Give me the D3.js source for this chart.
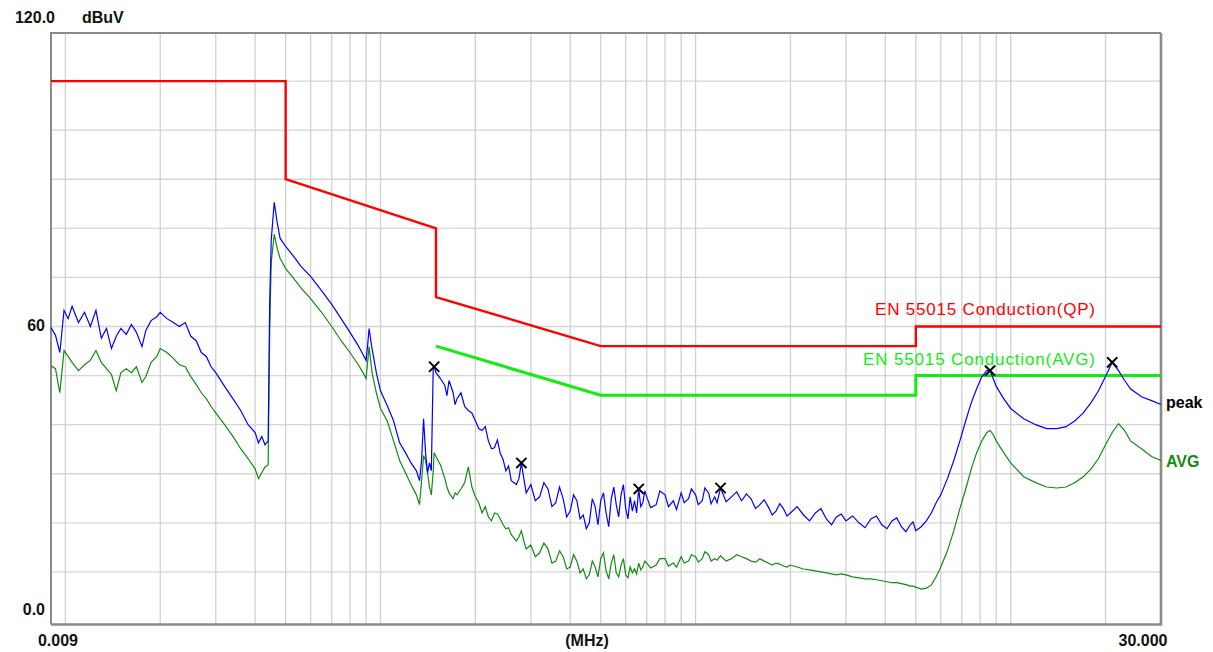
<!DOCTYPE html>
<html>
<head>
<meta charset="utf-8">
<script src="https://cdn.jsdelivr.net/npm/d3@7"></script>
<style>
  body { margin: 0; background: #fff; }
  text { font-family: "Liberation Sans", Arial, sans-serif; }
</style>
</head>
<body>
<div id="chart"></div>
<script>
// Conducted emission scan, 9 kHz - 30 MHz

// frequencies in MHz, shared by both traces
const freqs = [
  0.009,0.0093,0.0096,0.0099,0.0102,0.0105,0.011,0.0115,0.012,0.0125,
  0.013,0.0135,0.014,0.0145,0.015,0.0156,0.0162,0.0168,0.0175,0.018,
  0.0187,0.0195,0.020,0.021,0.022,0.023,0.024,0.025,0.026,0.027,
  0.028,0.029,0.030,
  0.032,0.034,0.036,0.038,0.040,0.041,0.042,0.043,0.044,0.0445,
  0.045,0.046,0.047,0.048,0.050,0.053,0.056,0.060,0.065,0.070,
  0.075,0.080,0.085,0.088,0.090,0.091,0.092,0.094,0.097,0.100,
  0.105,0.110,0.115,0.120,0.125,0.130,0.133,0.135,0.137,0.139,
  0.141,0.143,0.145,0.147,0.148,
  0.150,0.155,0.160,0.1625,0.165,0.170,0.1725,0.175,0.180,0.185,
  0.190,0.195,0.200,0.205,0.210,0.215,0.220,0.225,0.230,0.235,
  0.240,0.245,0.250,0.255,0.260,0.270,0.275,0.280,0.285,0.290,
  0.300,
  0.310,0.320,0.330,0.340,0.350,0.360,0.370,0.380,0.390,0.400,
  0.410,0.420,0.430,0.440,0.450,0.460,0.470,0.480,0.490,0.500,
  0.51,0.52,0.53,0.54,0.55,0.56,0.57,0.58,0.59,0.60,
  0.61,0.62,0.63,0.64,0.65,0.66,0.67,0.68,0.69,0.70,
  0.72,0.75,0.77,0.80,0.82,0.85,0.87,0.90,0.92,0.95,
  0.97,1.0,1.02,1.05,1.07,1.1,1.12,1.15,1.17,1.2,
  1.25,1.3,1.35,1.4,1.45,1.5,1.55,1.6,1.65,1.7,
  1.75,1.8,1.85,1.9,1.95,2.0,
  2.1,2.2,2.3,2.4,2.5,2.6,2.7,2.8,2.9,3.0,
  3.15,3.3,3.45,3.6,3.75,3.9,4.05,4.2,4.35,4.5,
  4.65,4.8,4.9,5.0,
  5.2,5.4,5.6,5.8,6.0,6.3,6.6,6.9,7.2,7.5,
  7.8,8.1,8.4,8.6,8.8,9.0,9.5,10,11,12,
  13,14,15,16,17,18,19,20,21,22,
  23,24,26,28,30
];

// peak detector trace, dBuV
const peakLevels = [
  59.8,58.2,54.7,63.3,61.6,64.1,60.8,62.9,60.0,63.3,
  57.6,59.6,55.5,58.0,59.6,58.4,60.4,58.8,55.9,59.2,
  61.2,62.0,62.9,61.6,60.8,60.0,60.8,58.0,57.1,54.7,
  53.9,51.8,50.6,
  47.8,45.3,42.9,40.0,38.4,36.3,37.6,35.9,36.7,65.3,
  77.6,85.3,81.2,78.0,76.3,74.3,72.2,70.2,67.3,64.5,
  61.6,58.8,56.1,54.3,53.1,56.1,59.6,55.5,50.6,46.9,
  43.9,40.8,36.3,34.3,32.2,30.6,28.6,32.7,41.2,34.3,
  30.2,32.2,30.6,51.6,51.8,
  50.6,49.4,48.0,45.9,49.0,46.5,44.1,45.3,46.5,43.7,
  42.9,42.4,40.8,39.2,38.8,39.6,36.7,35.1,35.3,36.9,
  34.1,32.9,30.6,31.6,28.6,27.8,29.0,32.2,29.0,26.1,
  27.8,
  24.5,25.3,28.2,26.9,23.3,24.1,27.3,24.9,21.2,22.4,
  25.7,24.5,20.8,21.6,18.8,20.0,24.9,23.3,19.6,24.5,
  26.1,22.0,19.2,24.9,27.3,23.7,21.2,25.7,27.8,22.9,
  20.8,25.3,22.4,24.5,22.0,26.9,23.3,24.1,26.5,25.3,
  23.1,23.7,26.5,25.7,23.3,24.5,22.7,26.1,24.1,24.9,
  26.9,25.7,23.7,24.5,27.1,26.1,23.9,25.3,24.1,27.1,
  24.3,25.3,26.3,24.5,25.9,24.9,22.9,23.7,24.7,23.3,
  21.6,22.4,23.9,22.9,21.4,22.0,
  23.3,21.6,20.4,22.0,22.9,20.8,19.6,21.2,21.8,20.4,
  21.4,20.0,19.0,20.8,21.4,19.6,18.8,20.4,21.0,19.2,
  18.2,19.6,20.2,18.4,
  19.2,20.4,22.0,24.1,25.7,29.0,32.7,36.7,40.8,44.5,
  47.3,49.8,51.0,51.0,49.4,47.8,45.3,43.3,41.2,40.0,
  39.2,39.2,39.6,40.8,42.4,44.5,46.9,49.8,52.7,51.0,
  49.0,47.3,45.7,44.9,44.1
];

// average detector trace, dBuV
const avgLevels = [
  52.0,51.4,46.5,55.1,53.9,52.7,51.0,52.2,53.1,55.1,
  52.7,51.4,50.2,46.9,50.6,51.4,50.6,51.8,48.6,49.8,
  52.7,53.9,55.5,54.7,53.5,52.2,51.8,49.8,48.2,46.5,
  45.3,43.7,42.4,
  40.0,37.6,35.1,33.1,31.0,29.0,30.2,31.4,31.8,59.2,
  73.1,78.8,75.9,73.9,71.8,69.8,67.8,65.7,62.9,60.0,
  57.1,54.7,52.2,50.6,49.4,52.7,55.9,50.6,46.5,43.3,
  40.8,36.7,32.7,30.2,27.8,25.7,23.7,28.6,33.7,32.7,
  30.2,27.3,25.7,30.6,34.3,
  33.5,31.8,29.0,27.3,26.1,24.9,26.1,25.7,26.9,28.2,
  31.4,27.3,25.3,24.1,22.0,23.3,21.2,20.4,22.0,21.8,
  20.8,19.6,18.8,19.0,17.6,16.3,17.1,18.4,16.3,14.7,
  15.5,
  13.1,13.9,15.9,14.7,11.8,12.2,14.3,13.1,10.6,11.0,
  13.5,12.2,9.8,10.6,8.6,9.4,12.2,11.0,9.0,12.7,
  13.9,10.2,8.6,11.8,13.5,9.8,9.0,11.4,12.7,9.4,
  8.8,11.0,9.8,10.6,9.6,11.8,10.4,11.0,12.2,11.8,
  10.8,11.4,12.7,12.7,11.2,11.8,11.0,13.1,11.8,12.2,
  13.5,13.1,12.0,12.7,14.1,13.5,12.2,12.7,12.4,13.3,
  12.2,12.7,13.5,13.1,12.7,12.2,12.0,12.7,12.2,11.8,
  11.4,11.8,11.6,11.2,11.0,11.4,
  11.0,10.6,10.4,10.2,10.0,9.8,9.6,9.4,9.6,9.4,
  9.0,8.8,8.6,8.6,8.4,8.2,8.0,7.8,7.8,7.6,
  7.4,7.1,7.1,6.9,
  6.5,6.7,7.3,9.0,11.0,14.3,18.4,22.9,26.9,31.0,
  34.3,36.7,38.4,38.8,38.0,36.7,34.3,32.2,29.4,28.2,
  27.3,27.1,27.3,28.2,29.4,31.0,33.1,35.9,38.4,40.2,
  38.8,36.7,35.1,33.5,32.7
];

// EN 55015 limit lines
const qpLimitFreqs  = [0.009, 0.05, 0.05, 0.15, 0.15, 0.5, 5, 5, 30];
const qpLimitLevels = [110, 110, 90, 80, 66, 56, 56, 60, 60];
const avgLimitFreqs  = [0.15, 0.5, 5, 5, 30];
const avgLimitLevels = [56, 46, 46, 50, 50];

// marked peaks
const markerFreqs  = [0.148, 0.28, 0.66, 1.2, 8.6, 21];
const markerLevels = [51.8, 32.2, 26.9, 27.1, 51.0, 52.7];

const yTickValues = [120, 60, 0];
const yTickLabels = ['120.0', '60', '0.0'];
const xTickLabels = ['0.009', '(MHz)', '30.000'];

const width = 1213, height = 652;
const margin = {top: 33, right: 52, bottom: 28, left: 51};

const x = d3.scaleLog()
    .domain([0.009, 30])
    .range([margin.left, width - margin.right]);

const y = d3.scaleLinear()
    .domain([0, 120])
    .range([621, 32]);

const svg = d3.select('#chart').append('svg')
    .attr('width', width)
    .attr('height', height);

svg.append('rect')
   .attr('width', width)
   .attr('height', height)
   .attr('fill', '#fff');

// grid
const gridH = d3.range(10, 120, 10);
svg.append('g')
   .selectAll('line')
   .data(gridH)
   .join('line')
     .attr('x1', margin.left).attr('x2', width - margin.right)
     .attr('y1', d => y(d)).attr('y2', d => y(d))
     .attr('stroke', '#d6d6d6')
     .attr('stroke-width', 1.3);

const gridV = x.ticks().filter(d => d > 0.0091 && d < 29.9);
svg.append('g')
   .selectAll('line')
   .data(gridV)
   .join('line')
     .attr('x1', d => x(d)).attr('x2', d => x(d))
     .attr('y1', margin.top).attr('y2', height - margin.bottom)
     .attr('stroke', '#d0d0d0')
     .attr('stroke-width', 1.3);

// frame
const frameL = margin.left, frameR = width - margin.right,
      frameT = margin.top, frameB = height - margin.bottom + 0.5;
svg.append('path')
   .attr('d', `M${frameL},${frameB}V${frameT}H${frameR}`)
   .attr('fill', 'none')
   .attr('stroke', '#8a8a8a')
   .attr('stroke-width', 2);
svg.append('path')
   .attr('d', `M${frameL},${frameB}H${frameR}V${frameT}`)
   .attr('fill', 'none')
   .attr('stroke', '#8a8a8a')
   .attr('stroke-width', 2.6);

// limit lines
const levelLine = d3.line()
    .x(d => x(d[0]))
    .y(d => y(d[1]));

svg.append('path')
   .datum(d3.zip(qpLimitFreqs, qpLimitLevels))
   .attr('fill', 'none')
   .attr('stroke', '#ff0000')
   .attr('stroke-width', 2.4)
   .attr('d', levelLine);

svg.append('path')
   .datum(d3.zip(avgLimitFreqs, avgLimitLevels))
   .attr('fill', 'none')
   .attr('stroke', '#10ee10')
   .attr('stroke-width', 3)
   .attr('d', levelLine);

// traces
svg.append('path')
   .datum(d3.zip(freqs, avgLevels))
   .attr('fill', 'none')
   .attr('stroke', '#138a13')
   .attr('stroke-width', 1.2)
   .attr('d', levelLine);

svg.append('path')
   .datum(d3.zip(freqs, peakLevels))
   .attr('fill', 'none')
   .attr('stroke', '#0000ff')
   .attr('stroke-width', 1.2)
   .attr('d', levelLine);

// peak markers
svg.append('g')
   .selectAll('path')
   .data(d3.zip(markerFreqs, markerLevels))
   .join('path')
     .attr('transform', d => `translate(${x(d[0])},${y(d[1])})`)
     .attr('d', d3.symbol(d3.symbolTimes, 70))
     .attr('fill', 'none')
     .attr('stroke', '#000')
     .attr('stroke-width', 2);

// limit labels
svg.append('text')
   .attr('x', 875).attr('y', 315)
   .attr('fill', '#ff0000')
   .attr('font-size', 17)
   .attr('textLength', 220)
   .attr('lengthAdjust', 'spacing')
   .text('EN 55015 Conduction(QP)');

svg.append('text')
   .attr('x', 863).attr('y', 365)
   .attr('fill', '#10ee10')
   .attr('font-size', 17)
   .attr('textLength', 232)
   .attr('lengthAdjust', 'spacing')
   .text('EN 55015 Conduction(AVG)');

// trace labels
svg.append('text')
   .attr('x', frameR + 5).attr('y', 408)
   .attr('font-size', 16).attr('font-weight', 'bold')
   .attr('fill', '#000')
   .text('peak');

svg.append('text')
   .attr('x', frameR + 5).attr('y', 467)
   .attr('font-size', 16).attr('font-weight', 'bold')
   .attr('fill', '#138a13')
   .text('AVG');

// axis labels
const yLabelPos = [[55, y(120) - 9], [45, y(60) + 4], [45, y(0) - 6]];
svg.append('g')
   .selectAll('text')
   .data(yTickValues)
   .join('text')
     .attr('x', (d, i) => yLabelPos[i][0])
     .attr('y', (d, i) => yLabelPos[i][1])
     .attr('text-anchor', 'end')
     .attr('font-size', 16).attr('font-weight', 'bold')
     .attr('fill', '#111')
     .text((d, i) => yTickLabels[i]);

svg.append('text')
   .attr('x', 82).attr('y', y(120) - 9)
   .attr('font-size', 16).attr('font-weight', 'bold')
   .attr('fill', '#111')
   .text('dBuV');

const xLabelPos = [x(0.009) + 7, 587, x(30) - 18];
svg.append('g')
   .selectAll('text')
   .data(xTickLabels)
   .join('text')
     .attr('x', (d, i) => xLabelPos[i])
     .attr('y', 646)
     .attr('text-anchor', 'middle')
     .attr('font-size', 16).attr('font-weight', 'bold')
     .attr('fill', '#111')
     .text(d => d);
</script>
</body>
</html>
